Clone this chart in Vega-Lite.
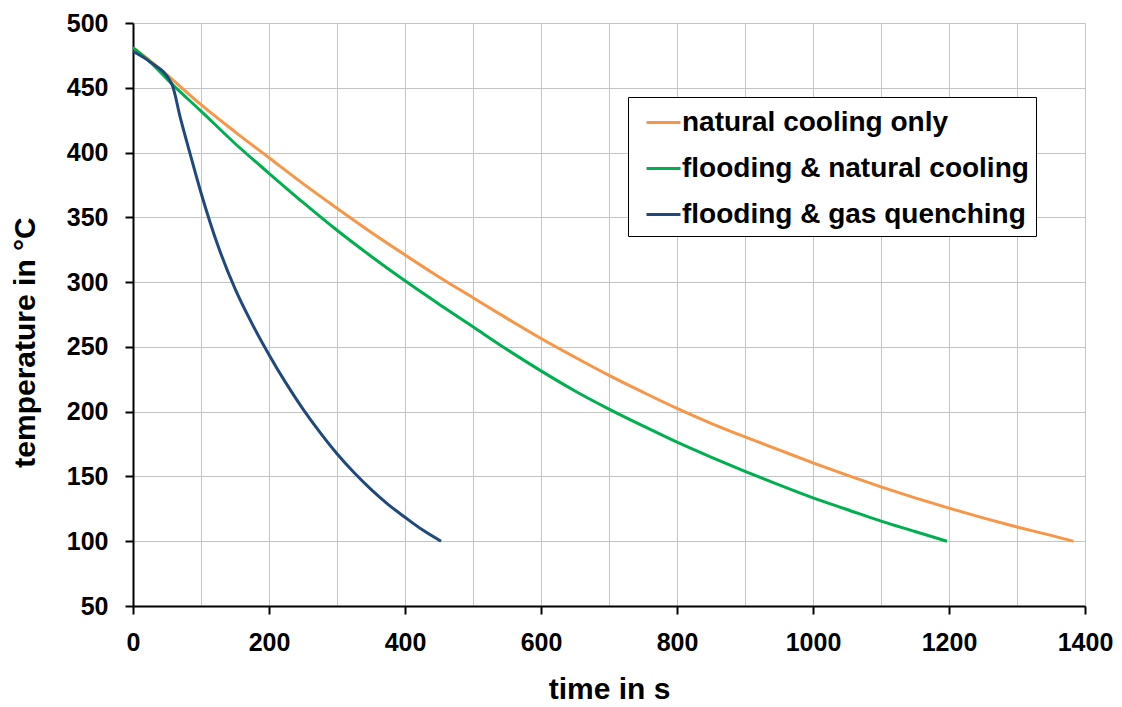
{
  "$schema": "https://vega.github.io/schema/vega-lite/v6.json",
  "width": 952,
  "height": 583,
  "autosize": {"type": "none"},
  "padding": {"left": 133, "top": 23, "right": 37, "bottom": 101},
  "background": "white",
  "config": {
    "view": {"stroke": null},
    "font": "Liberation Sans"
  },
  "data": {
    "values": [
      {"series": "natural cooling only", "t": 0, "T": 481},
      {"series": "natural cooling only", "t": 25, "T": 471},
      {"series": "natural cooling only", "t": 50, "T": 460},
      {"series": "natural cooling only", "t": 100, "T": 437},
      {"series": "natural cooling only", "t": 150, "T": 416},
      {"series": "natural cooling only", "t": 200, "T": 396},
      {"series": "natural cooling only", "t": 250, "T": 376},
      {"series": "natural cooling only", "t": 300, "T": 357},
      {"series": "natural cooling only", "t": 350, "T": 338.5},
      {"series": "natural cooling only", "t": 400, "T": 321},
      {"series": "natural cooling only", "t": 450, "T": 304},
      {"series": "natural cooling only", "t": 500, "T": 288},
      {"series": "natural cooling only", "t": 550, "T": 272},
      {"series": "natural cooling only", "t": 600, "T": 256.5},
      {"series": "natural cooling only", "t": 650, "T": 242},
      {"series": "natural cooling only", "t": 700, "T": 228},
      {"series": "natural cooling only", "t": 750, "T": 215},
      {"series": "natural cooling only", "t": 800, "T": 202.5},
      {"series": "natural cooling only", "t": 850, "T": 191},
      {"series": "natural cooling only", "t": 900, "T": 180.5},
      {"series": "natural cooling only", "t": 950, "T": 170.5},
      {"series": "natural cooling only", "t": 1000, "T": 160.5},
      {"series": "natural cooling only", "t": 1050, "T": 151},
      {"series": "natural cooling only", "t": 1100, "T": 142},
      {"series": "natural cooling only", "t": 1150, "T": 133.5},
      {"series": "natural cooling only", "t": 1200, "T": 125.5},
      {"series": "natural cooling only", "t": 1250, "T": 118},
      {"series": "natural cooling only", "t": 1300, "T": 111},
      {"series": "natural cooling only", "t": 1350, "T": 104.5},
      {"series": "natural cooling only", "t": 1383, "T": 100},
      {"series": "flooding & natural cooling", "t": 0, "T": 481},
      {"series": "flooding & natural cooling", "t": 25, "T": 470},
      {"series": "flooding & natural cooling", "t": 57, "T": 453},
      {"series": "flooding & natural cooling", "t": 100, "T": 432},
      {"series": "flooding & natural cooling", "t": 150, "T": 407},
      {"series": "flooding & natural cooling", "t": 200, "T": 384},
      {"series": "flooding & natural cooling", "t": 250, "T": 361.5},
      {"series": "flooding & natural cooling", "t": 300, "T": 340},
      {"series": "flooding & natural cooling", "t": 350, "T": 320},
      {"series": "flooding & natural cooling", "t": 400, "T": 301},
      {"series": "flooding & natural cooling", "t": 450, "T": 283},
      {"series": "flooding & natural cooling", "t": 500, "T": 265.5},
      {"series": "flooding & natural cooling", "t": 550, "T": 248},
      {"series": "flooding & natural cooling", "t": 600, "T": 231.5},
      {"series": "flooding & natural cooling", "t": 650, "T": 216},
      {"series": "flooding & natural cooling", "t": 700, "T": 202},
      {"series": "flooding & natural cooling", "t": 750, "T": 189},
      {"series": "flooding & natural cooling", "t": 800, "T": 176.5},
      {"series": "flooding & natural cooling", "t": 850, "T": 165},
      {"series": "flooding & natural cooling", "t": 900, "T": 154},
      {"series": "flooding & natural cooling", "t": 950, "T": 143.5},
      {"series": "flooding & natural cooling", "t": 1000, "T": 133.5},
      {"series": "flooding & natural cooling", "t": 1050, "T": 124.5},
      {"series": "flooding & natural cooling", "t": 1100, "T": 115.5},
      {"series": "flooding & natural cooling", "t": 1150, "T": 107.5},
      {"series": "flooding & natural cooling", "t": 1197, "T": 100},
      {"series": "flooding & gas quenching", "t": 0, "T": 478},
      {"series": "flooding & gas quenching", "t": 25, "T": 470},
      {"series": "flooding & gas quenching", "t": 57, "T": 453},
      {"series": "flooding & gas quenching", "t": 70, "T": 426},
      {"series": "flooding & gas quenching", "t": 84, "T": 399},
      {"series": "flooding & gas quenching", "t": 100, "T": 369},
      {"series": "flooding & gas quenching", "t": 125, "T": 328},
      {"series": "flooding & gas quenching", "t": 150, "T": 295},
      {"series": "flooding & gas quenching", "t": 175, "T": 268},
      {"series": "flooding & gas quenching", "t": 200, "T": 244},
      {"series": "flooding & gas quenching", "t": 225, "T": 222},
      {"series": "flooding & gas quenching", "t": 250, "T": 202},
      {"series": "flooding & gas quenching", "t": 275, "T": 184},
      {"series": "flooding & gas quenching", "t": 300, "T": 167.5},
      {"series": "flooding & gas quenching", "t": 325, "T": 153},
      {"series": "flooding & gas quenching", "t": 350, "T": 140},
      {"series": "flooding & gas quenching", "t": 375, "T": 128.5},
      {"series": "flooding & gas quenching", "t": 400, "T": 118.5},
      {"series": "flooding & gas quenching", "t": 425, "T": 109},
      {"series": "flooding & gas quenching", "t": 453, "T": 100}
    ]
  },
  "encoding": {
    "y": {
      "field": "T",
      "type": "quantitative",
      "scale": {"domain": [50, 500], "nice": false, "zero": false},
      "axis": {
        "title": "temperature in °C",
        "values": [50, 100, 150, 200, 250, 300, 350, 400, 450, 500],
        "grid": true,
        "gridColor": "#c4c4c4",
        "gridWidth": 1,
        "domainColor": "black",
        "domainWidth": 2,
        "tickColor": "black",
        "tickWidth": 2,
        "tickSize": 8,
        "labelPadding": 17,
        "labelFont": "Liberation Sans",
        "labelFontSize": 25,
        "labelFontWeight": "bold",
        "labelColor": "black",
        "labelFlush": false,
        "labelOverlap": false,
        "titleFont": "Liberation Sans",
        "titleFontSize": 30,
        "titleFontWeight": "bold",
        "titleColor": "black",
        "titleAngle": -90,
        "titleX": -99,
        "titleY": 319,
        "titleAlign": "center",
        "titleBaseline": "alphabetic"
      }
    },
    "color": {
      "field": "series",
      "type": "nominal",
      "scale": {
        "domain": ["natural cooling only", "flooding & natural cooling", "flooding & gas quenching"],
        "range": ["#F79646", "#00B050", "#1F497D"]
      },
      "legend": {
        "title": null,
        "orient": "none",
        "legendX": 495,
        "legendY": 74,
        "symbolType": "stroke",
        "symbolSize": 1156,
        "symbolStrokeWidth": 3,
        "symbolOffset": 10,
        "labelOffset": 0,
        "labelFont": "Liberation Sans",
        "labelFontSize": 28,
        "labelFontWeight": "bold",
        "labelColor": "black",
        "labelLimit": 600,
        "rowPadding": 13,
        "padding": 7,
        "strokeColor": "black",
        "fillColor": "white"
      }
    }
  },
  "layer": [
    {
      "transform": [{"filter": "datum.series === 'natural cooling only'"}],
      "mark": {"type": "line", "strokeWidth": 3, "interpolate": "monotone"},
      "encoding": {
        "x": {
          "field": "t",
          "type": "quantitative",
          "scale": {"domain": [0, 1400], "nice": false, "zero": false},
          "axis": {
            "orient": "bottom",
            "title": null,
            "values": [0, 100, 200, 300, 400, 500, 600, 700, 800, 900, 1000, 1100, 1200, 1300, 1400],
            "grid": true,
            "gridColor": "#c4c4c4",
            "gridWidth": 1,
            "domain": false,
            "ticks": false,
            "labels": false
          }
        }
      }
    },
    {
      "transform": [{"filter": "datum.series === 'flooding & natural cooling'"}],
      "mark": {"type": "line", "strokeWidth": 3, "interpolate": "monotone"},
      "encoding": {
        "x": {
          "field": "t",
          "type": "quantitative",
          "scale": {"domain": [0, 1400], "nice": false, "zero": false},
          "axis": {
            "orient": "bottom",
            "title": "time in s",
            "values": [0, 200, 400, 600, 800, 1000, 1200, 1400],
            "format": "d",
            "grid": false,
            "domainColor": "black",
            "domainWidth": 2,
            "tickColor": "black",
            "tickWidth": 2,
            "tickSize": 8,
            "labelPadding": 16,
            "labelFont": "Liberation Sans",
            "labelFontSize": 25,
            "labelFontWeight": "bold",
            "labelColor": "black",
            "labelFlush": false,
            "labelOverlap": false,
            "titleFont": "Liberation Sans",
            "titleFontSize": 30,
            "titleFontWeight": "bold",
            "titleColor": "black",
            "titleX": 476,
            "titleY": 92,
            "titleAlign": "center",
            "titleBaseline": "alphabetic"
          }
        }
      }
    },
    {
      "transform": [{"filter": "datum.series === 'flooding & gas quenching'"}],
      "mark": {"type": "line", "strokeWidth": 3, "interpolate": "monotone"},
      "encoding": {
        "x": {
          "field": "t",
          "type": "quantitative",
          "scale": {"domain": [0, 1400], "nice": false, "zero": false},
          "axis": null
        }
      }
    }
  ],
  "resolve": {"axis": {"x": "independent"}}
}
